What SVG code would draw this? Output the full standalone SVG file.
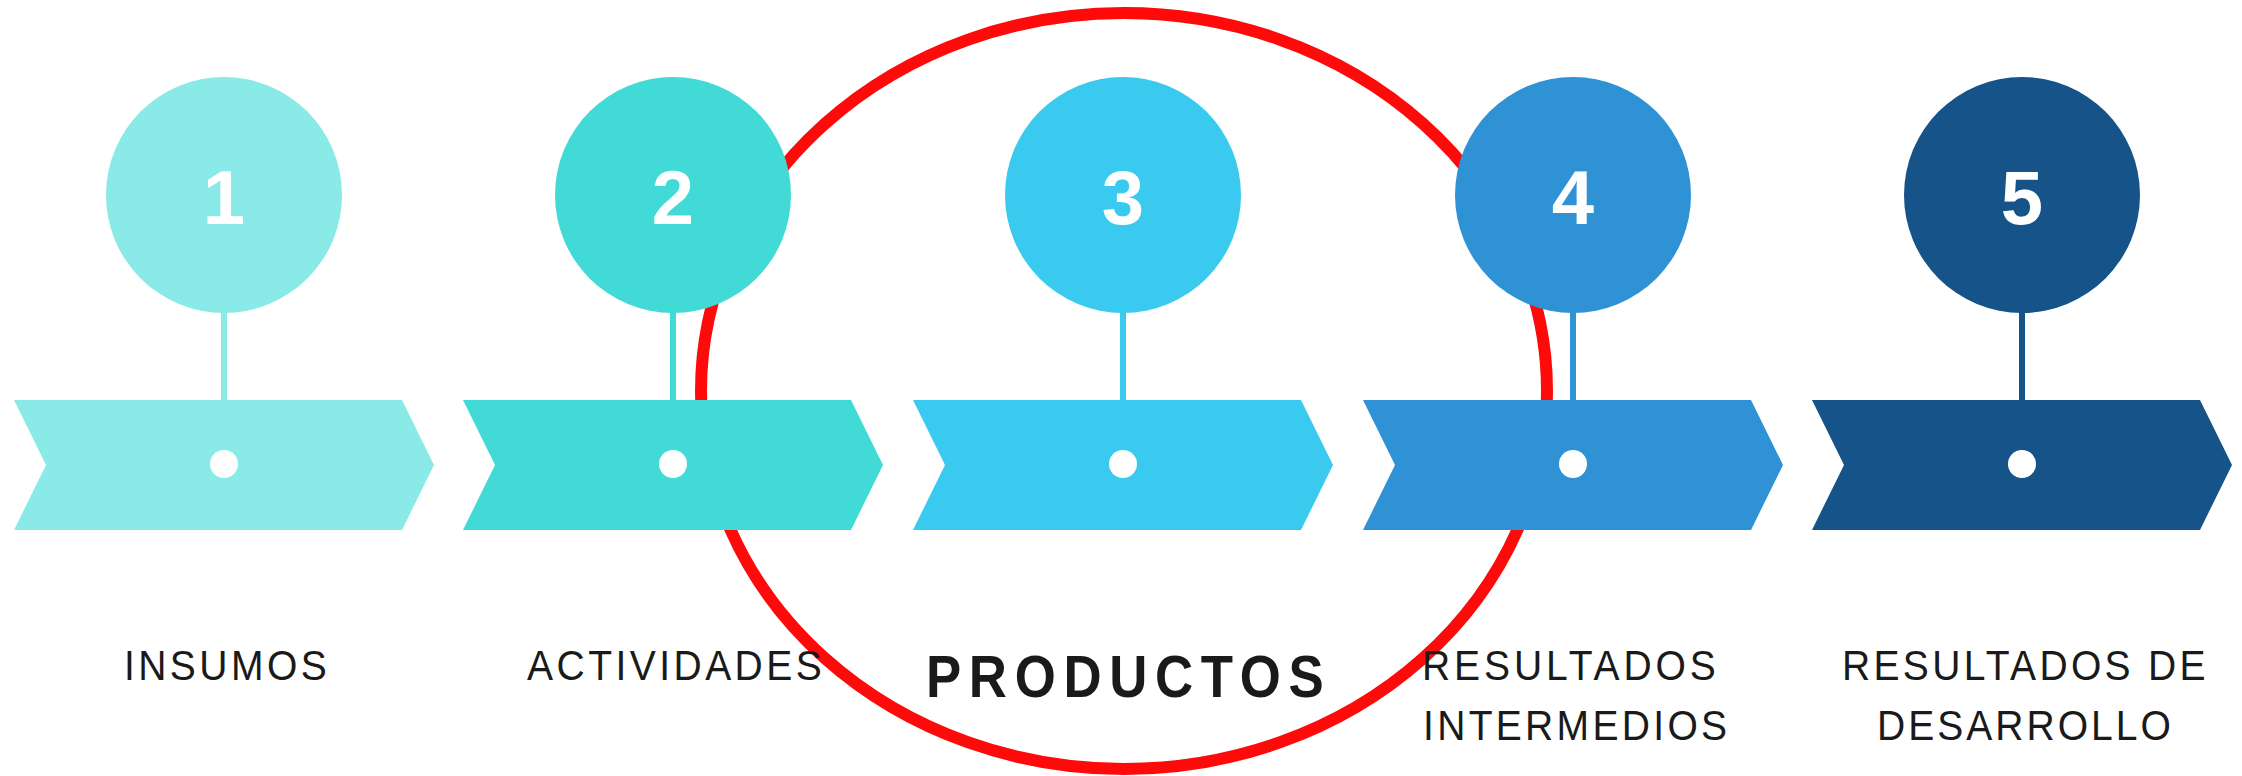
<svg xmlns="http://www.w3.org/2000/svg" width="2242" height="776" viewBox="0 0 2242 776">
<style>
.num{font-family:"Liberation Sans",Arial,sans-serif;font-weight:bold;font-size:76px;fill:#ffffff;text-anchor:middle}
.lbl{font-family:"Liberation Sans",Arial,sans-serif;font-size:42px;fill:#1a1a1a}
.lblb{font-family:"Liberation Sans",Arial,sans-serif;font-weight:bold;font-size:60px;fill:#1a1a1a}
.dot{fill:#ffffff}
.c1{fill:#8AEAE7;stroke:#8AEAE7}
.c2{fill:#41DAD7;stroke:#41DAD7}
.c3{fill:#3AC9EF;stroke:#3AC9EF}
.c4{fill:#2E92D5;stroke:#2E92D5}
.c5{fill:#165389;stroke:#165389}
</style>
<defs>
<polygon id="chev" points="-210,400 178,400 210,465 178,530 -210,530 -178,465"/>
</defs>
<rect width="2242" height="776" fill="#ffffff"/>
<g id="highlight">
<ellipse cx="1124" cy="391" rx="423" ry="378" fill="none" stroke="#FF0A0A" stroke-width="12"/>
</g>
<g id="connectors">
<line x1="224" y1="310" x2="224" y2="402" class="c1" stroke-width="6"/>
<line x1="673" y1="310" x2="673" y2="402" class="c2" stroke-width="6"/>
<line x1="1123" y1="310" x2="1123" y2="402" class="c3" stroke-width="6"/>
<line x1="1573" y1="310" x2="1573" y2="402" class="c4" stroke-width="6"/>
<line x1="2022" y1="310" x2="2022" y2="402" class="c5" stroke-width="6"/>
</g>
<g id="node1" transform="translate(224,0)">
<use href="#chev" class="c1" stroke-width="0"/>
<circle cx="0" cy="195" r="118" class="c1" stroke-width="0"/>
<text x="0" y="224" class="num">1</text>
<circle cx="0" cy="464" r="14" class="dot"/>
</g>
<g id="node2" transform="translate(673,0)">
<use href="#chev" class="c2" stroke-width="0"/>
<circle cx="0" cy="195" r="118" class="c2" stroke-width="0"/>
<text x="0" y="224" class="num">2</text>
<circle cx="0" cy="464" r="14" class="dot"/>
</g>
<g id="node3" transform="translate(1123,0)">
<use href="#chev" class="c3" stroke-width="0"/>
<circle cx="0" cy="195" r="118" class="c3" stroke-width="0"/>
<text x="0" y="224" class="num">3</text>
<circle cx="0" cy="464" r="14" class="dot"/>
</g>
<g id="node4" transform="translate(1573,0)">
<use href="#chev" class="c4" stroke-width="0"/>
<circle cx="0" cy="195" r="118" class="c4" stroke-width="0"/>
<text x="0" y="224" class="num">4</text>
<circle cx="0" cy="464" r="14" class="dot"/>
</g>
<g id="node5" transform="translate(2022,0)">
<use href="#chev" class="c5" stroke-width="0"/>
<circle cx="0" cy="195" r="118" class="c5" stroke-width="0"/>
<text x="0" y="224" class="num">5</text>
<circle cx="0" cy="464" r="14" class="dot"/>
</g>
<g id="labels">
<text transform="translate(124,680) scale(0.93,1)" class="lbl" textLength="218" lengthAdjust="spacing">INSUMOS</text>
<text transform="translate(527,680) scale(0.93,1)" class="lbl" textLength="317" lengthAdjust="spacing">ACTIVIDADES</text>
<text transform="translate(926,697) scale(0.88,1)" class="lblb" textLength="452" lengthAdjust="spacing">PRODUCTOS</text>
<text transform="translate(1422,680) scale(0.93,1)" class="lbl" textLength="316" lengthAdjust="spacing">RESULTADOS</text>
<text transform="translate(1423,740) scale(0.93,1)" class="lbl" textLength="327" lengthAdjust="spacing">INTERMEDIOS</text>
<text transform="translate(1842,680) scale(0.93,1)" class="lbl" textLength="391" lengthAdjust="spacing">RESULTADOS DE</text>
<text transform="translate(1877,740) scale(0.93,1)" class="lbl" textLength="316" lengthAdjust="spacing">DESARROLLO</text>
</g>
</svg>
